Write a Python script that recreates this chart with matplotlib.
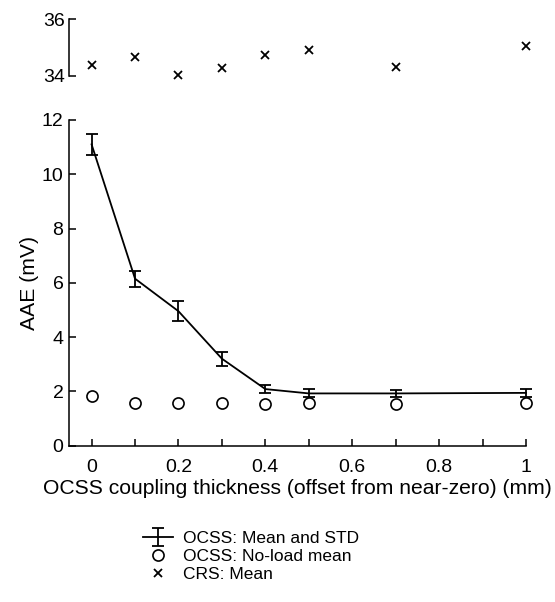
import matplotlib
matplotlib.use("Agg")
import matplotlib.pyplot as plt
import numpy as np

plt.rcParams['font.family'] = ['Liberation Sans', 'DejaVu Sans']

thickness = [0, 0.1, 0.2, 0.3, 0.4, 0.5, 0.7, 1.0]
ocss_mean = [11.1, 6.15, 4.95, 3.2, 2.08, 1.92, 1.92, 1.94]
ocss_std = [0.4, 0.3, 0.36, 0.26, 0.14, 0.15, 0.14, 0.16]
ocss_noload = [1.82, 1.58, 1.56, 1.55, 1.53, 1.56, 1.53, 1.57]
crs_mean = [34.37, 34.66, 34.01, 34.28, 34.73, 34.89, 34.31, 35.04]

xticks = [0, 0.2, 0.4, 0.6, 0.8, 1]
xtick_labels = ['0', '0.2', '0.4', '0.6', '0.8', '1']
yticks_bottom = [0, 2, 4, 6, 8, 10, 12]
yticks_top = [34, 36]

W, H = 555, 602
fig = plt.figure(figsize=(W / 100, H / 100), dpi=100)

left = 69 / W
right = 526 / W
ax_top = fig.add_axes([left, 1 - 75.5 / H, right - left, (75.5 - 19) / H])
ax = fig.add_axes([left, 1 - 445.5 / H, right - left, (445.5 - 120) / H])

xlim = (-0.052, 1.0)
fs_tick = 14
fs_label = 15.2

# top axis (CRS)
h_crs, = ax_top.plot(thickness, crs_mean, linestyle='none', marker='x', color='black',
                     markersize=5.5, markeredgewidth=1.3, clip_on=False, label='CRS: Mean')
ax_top.set_xlim(*xlim)
ax_top.set_ylim(34, 36)
ax_top.set_yticks(yticks_top)
ax_top.set_xticks([])
for s in ['top', 'right', 'bottom']:
    ax_top.spines[s].set_visible(False)
ax_top.spines['left'].set_linewidth(1.1)
ax_top.tick_params(axis='y', direction='in', length=5, width=1.1, labelsize=fs_tick, pad=3)

# bottom axis (OCSS)
h_err = ax.errorbar(thickness, ocss_mean, yerr=ocss_std, color='black', linewidth=1.3,
                    elinewidth=1.3, capsize=4.5, capthick=1.3, clip_on=False,
                    label='OCSS: Mean and STD')
for art in h_err.lines[1] + h_err.lines[2]:
    art.set_clip_on(False)
h_nl, = ax.plot(thickness, ocss_noload, linestyle='none', marker='o', markerfacecolor='none',
                markeredgecolor='black', markersize=8, markeredgewidth=1.2, clip_on=False,
                label='OCSS: No-load mean')
ax.set_xlim(*xlim)
ax.set_ylim(0, 12)
ax.set_yticks(yticks_bottom)
ax.set_xticks(xticks)
ax.set_xticklabels(xtick_labels)
ax.set_xticks([0.1, 0.3, 0.5, 0.7, 0.9], minor=True)
for s in ['top', 'right']:
    ax.spines[s].set_visible(False)
for s in ['left', 'bottom']:
    ax.spines[s].set_linewidth(1.1)
ax.tick_params(axis='both', which='major', direction='in', length=5, width=1.1, labelsize=fs_tick)
ax.tick_params(axis='x', which='minor', direction='in', length=5, width=1.1)
ax.tick_params(axis='x', which='major', pad=10)
ax.tick_params(axis='y', which='major', pad=4)
ax.set_xlabel('OCSS coupling thickness (offset from near-zero) (mm)', fontsize=fs_label, labelpad=2)
ax.set_ylabel('AAE (mV)', fontsize=fs_label, labelpad=2)

fig.legend([h_err, h_nl, h_crs], ['OCSS: Mean and STD', 'OCSS: No-load mean', 'CRS: Mean'],
           loc='upper left', bbox_to_anchor=(143 / W, 1 - 531 / H), frameon=False,
           fontsize=12.5, handlelength=1.7, handletextpad=0.6, labelspacing=0.15,
           borderaxespad=0, borderpad=0)

fig.savefig('out.png', dpi=100)
